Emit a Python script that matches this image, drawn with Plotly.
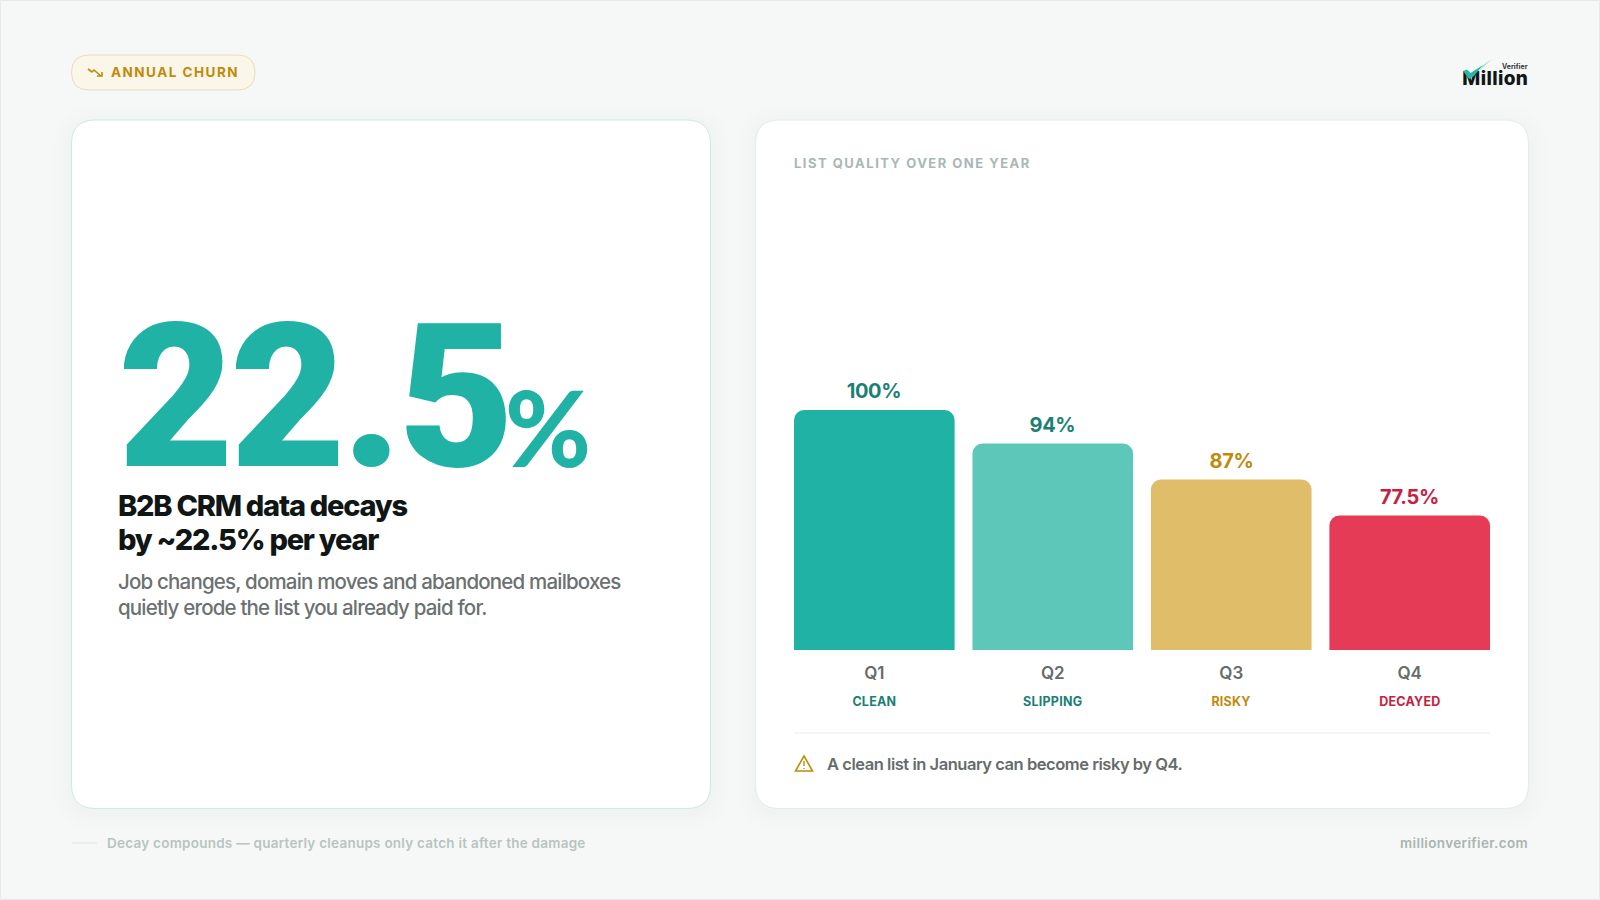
import plotly.graph_objects as go

quarters = ["Q1", "Q2", "Q3", "Q4"]
# bar heights in the picture are not to scale with the printed labels
bar_heights = [100, 86, 71, 56]
value_labels = ["100%", "94%", "87%", "77.5%"]
statuses = ["CLEAN", "SLIPPING", "RISKY", "DECAYED"]
bar_colors = ["#20b2a4", "#5dc7b9", "#e0bd68", "#e63b57"]
label_colors = ["#1a7f74", "#1a7f74", "#c08a0a", "#c8203f"]

W = 1600
H = 900
FONT = "Inter"


def px(x):
    return x / W


def py(y):
    return 1 - y / H


def path(*pts, close=True):
    s = "M" + " L".join(f"{px(x):.5f},{py(y):.5f}" for x, y in pts)
    return s + (" Z" if close else "")


def round_rect(x0, y0, x1, y1, r):
    c = [
        ("M", x0 + r, y0), ("L", x1 - r, y0), ("Q", x1, y0, x1, y0 + r),
        ("L", x1, y1 - r), ("Q", x1, y1, x1 - r, y1), ("L", x0 + r, y1),
        ("Q", x0, y1, x0, y1 - r), ("L", x0, y0 + r), ("Q", x0, y0, x0 + r, y0),
    ]
    out = ""
    for seg in c:
        out += seg[0]
        vals = seg[1:]
        out += " ".join(f"{px(vals[i]):.5f},{py(vals[i + 1]):.5f}" for i in range(0, len(vals), 2)) + " "
    return out + "Z"


def paper_path(d, **kw):
    return dict(type="path", xref="paper", yref="paper", path=d, **kw)


def paper_line(x0, y0, x1, y1, color, width=1):
    return dict(type="line", xref="paper", yref="paper", x0=px(x0), x1=px(x1), y0=py(y0), y1=py(y1),
                line=dict(color=color, width=width))


def label(text, x, y, size, color, weight=400, anchor="left", family=FONT):
    # annotations sit about 2px inside their anchor point
    x = x - 2 if anchor == "left" else x + 2
    return dict(
        text=text, x=px(x), y=py(y), xref="paper", yref="paper",
        xanchor=anchor, yanchor="middle", align=anchor, showarrow=False,
        font=dict(family=family, size=size, color=color, weight=weight),
    )


def soft_shadow(x0, y0, x1, y1, r):
    # layered translucent rects stand in for the css box-shadow
    out = []
    for grow in [18, 13, 9, 5, 2]:
        out.append(paper_path(
            round_rect(x0 - grow, y0 - grow + 4, x1 + grow, y1 + grow + 4, r + grow),
            fillcolor="rgba(20,60,55,0.004)", line=dict(width=0), layer="below",
        ))
    return out


fig = go.Figure(
    go.Bar(
        x=quarters,
        y=bar_heights,
        marker=dict(color=bar_colors, cornerradius=10, line=dict(width=0)),
        hoverinfo="skip",
    )
)

shapes = soft_shadow(71.5, 120, 710.5, 808.5, 24) + soft_shadow(755.5, 120, 1528.5, 808.5, 24) + [
    # page edge
    paper_path(path((0.5, 0.5), (1599.5, 0.5), (1599.5, 899.5), (0.5, 899.5)),
               line=dict(color="#e6e9e8", width=1), layer="below"),
    paper_path(round_rect(71.5, 120, 710.5, 808.5, 24), fillcolor="#ffffff",
               line=dict(color="#c8ece6", width=1), layer="below"),
    paper_path(round_rect(755.5, 120, 1528.5, 808.5, 24), fillcolor="#ffffff",
               line=dict(color="#e4ebe9", width=1), layer="below"),
    paper_path(round_rect(71.5, 55, 255, 90, 17.5), fillcolor="#faf6ea",
               line=dict(color="#ecdcb5", width=1), layer="below"),
    # trend icon in the pill
    paper_path(path((88, 69), (92, 72), (94, 70), (101, 76), close=False),
               line=dict(color="#c08a0a", width=1.6)),
    paper_path(path((97, 76), (102, 76), (102, 72), close=False),
               line=dict(color="#c08a0a", width=1.6)),
    # divider under the bars
    paper_line(794, 733, 1490, 733, "#e8ecea"),
    # warning icon
    paper_path(path((804, 756), (812.5, 771), (795.5, 771)), line=dict(color="#c08a0a", width=1.6)),
    paper_line(804, 761, 804, 766, "#c08a0a", 1.4),
    paper_line(804, 768, 804, 769, "#c08a0a", 1.4),
    # footer rule
    paper_line(72, 843, 97, 843, "#dde5e3"),
    # logo tick
    paper_path(path((1463, 71), (1467, 69.5), (1470.5, 73), (1483, 65), (1474, 76), (1469, 79)),
               fillcolor="#2bb5a6", line=dict(width=0), layer="above"),
    paper_path(path((1483, 65), (1492, 59), (1479, 71)),
               fillcolor="#a8e0d9", line=dict(width=0), layer="above"),
]

annotations = [
    label("ANNUAL CHURN", 111, 72, 13.5, "#c08a0a", 700),
    label("LIST QUALITY OVER ONE YEAR", 794, 163, 13, "#a9b8b5", 700),
    label("22.5", 118, 397, 200, "#20b2a4", 900, family="Roboto"),
    label("%", 505, 426.5, 104, "#20b2a4", 900, family="Lato"),
    label("B2B CRM data decays", 118, 506, 29, "#101615", 800),
    label("by ~22.5% per year", 118, 539, 29, "#101615", 800),
    label("Job changes, domain moves and abandoned mailboxes", 118, 581, 20.5, "#6b7170", 500),
    label("quietly erode the list you already paid for.", 118, 607, 20.5, "#6b7170", 500),
    label("A clean list in January can become risky by Q4.", 827, 764, 16.5, "#666c6b", 600),
    label("Decay compounds \u2014 quarterly cleanups only catch it after the damage", 107, 843, 13.5, "#b8c4c1", 600),
    label("millionverifier.com", 1528, 843, 13.5, "#a9b5b2", 600, "right"),
    label("Million", 1528, 78, 19, "#111716", 800, "right"),
    label("Verifier", 1528, 67, 7, "#333a39", 700, "right"),
]

for q, h, txt, status, col in zip(quarters, bar_heights, value_labels, statuses, label_colors):
    annotations.append(dict(
        text=txt, x=q, y=h, xref="x", yref="y", xanchor="center", yanchor="bottom",
        yshift=5, showarrow=False,
        font=dict(family=FONT, size=20, color=col, weight=700),
    ))
    annotations.append(dict(
        text=status, x=q, y=py(701), xref="x", yref="paper", xanchor="center", yanchor="middle",
        showarrow=False, font=dict(family=FONT, size=12.5, color=col, weight=700),
    ))

fig.update_layout(
    width=W,
    height=H,
    margin=dict(l=0, r=0, t=0, b=0),
    paper_bgcolor="#f6f8f7",
    plot_bgcolor="rgba(0,0,0,0)",
    showlegend=False,
    bargap=0.1,
    shapes=shapes,
    annotations=annotations,
    xaxis=dict(
        domain=[px(794), px(1490)],
        range=[-0.45, 3.45],
        showline=False, showgrid=False, zeroline=False, ticks="",
        ticklabelstandoff=11,
        tickfont=dict(family=FONT, size=17, color="#666c6b", weight=600),
    ),
    yaxis=dict(
        domain=[py(650), py(410)],
        range=[0, 100],
        visible=False,
    ),
)

# plotly has no letter-spacing option, so set it on the rendered text
post = """
document.body.style.margin = '0';
var spacing = {'22.5': '-0.02em', 'ANNUAL CHURN': '0.11em',
  'LIST QUALITY OVER ONE YEAR': '0.115em', 'B2B CRM data decays': '-0.043em',
  'by ~22.5% per year': '-0.043em',
  'Job changes, domain moves and abandoned mailboxes': '-0.04em',
  'quietly erode the list you already paid for.': '-0.04em',
  'A clean list in January can become risky by Q4.': '-0.028em',
  'Decay compounds \\u2014 quarterly cleanups only catch it after the damage': '0.018em',
  'millionverifier.com': '0.027em', 'Million': '0.02em',
  'CLEAN': '0.02em', 'SLIPPING': '0.02em', 'RISKY': '0.02em', 'DECAYED': '0.02em',
  '100%': '-0.02em', '94%': '-0.02em', '87%': '-0.02em', '77.5%': '-0.02em'};
document.querySelectorAll('.annotation-text').forEach(function (t) {
  var s = spacing[t.textContent];
  if (s) { t.style.letterSpacing = s; }
  // the logo tick sits on top of the wordmark
  if (t.textContent === 'Million') {
    var above = document.querySelector('.layer-above .shapelayer');
    var g = t.closest('.annotation');
    if (above && g) { above.insertBefore(g, above.firstChild); }
  }
});
"""

fig.write_html("out.html", post_script=post, config=dict(displayModeBar=False))
